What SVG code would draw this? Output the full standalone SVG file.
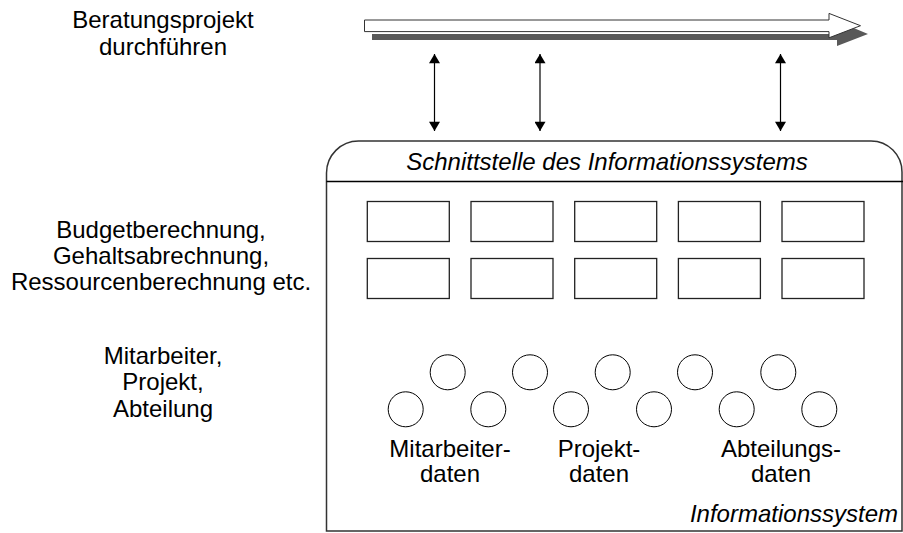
<svg xmlns="http://www.w3.org/2000/svg" width="903" height="533" viewBox="0 0 903 533">
  <defs>
    <marker id="head" viewBox="0 0 10 12" refX="10" refY="6" markerWidth="10" markerHeight="11" markerUnits="userSpaceOnUse" orient="auto-start-reverse">
      <path d="M0,0 L10,6 L0,12 Z" fill="#000"/>
    </marker>
    <style>
      text { font-family: "Liberation Sans", Arial, sans-serif; font-size: 24px; fill: #000; }
      .mid { text-anchor: middle; }
      .it { font-style: italic; }
      .fn { fill: #fff; stroke: #222; stroke-width: 1.3; }
      .db { fill: #fff; stroke: #000; stroke-width: 1; }
      .link { stroke: #000; stroke-width: 1.2; fill: none; }
    </style>
  </defs>

  <!-- process arrow with drop shadow -->
  <g id="process">
    <path d="M372,34 H837 V21 L868,34 L837,46 V40 H372 Z" fill="#595959"/>
    <path d="M364.5,20 H829 V13.4 L860.5,25.7 L829,37.8 V31.6 H364.5 Z" fill="#fff" stroke="#333" stroke-width="1"/>
  </g>
  <g id="label-process">
    <text class="mid" x="163" y="28">Beratungsprojekt</text>
    <text class="mid" x="163" y="55">durchführen</text>
  </g>

  <!-- interface links -->
  <g id="connectors">
    <line class="link" x1="434.5" y1="54" x2="434.5" y2="131" marker-start="url(#head)" marker-end="url(#head)"/>
    <line class="link" x1="540" y1="54" x2="540" y2="131" marker-start="url(#head)" marker-end="url(#head)"/>
    <line class="link" x1="780.5" y1="54" x2="780.5" y2="131" marker-start="url(#head)" marker-end="url(#head)"/>
  </g>

  <!-- information system frame -->
  <g id="system">
    <path d="M326.5,531 V173 A32,32 0 0 1 358.5,141 H871 A31,31 0 0 1 902,172 V531 Z" fill="#fff" stroke="#333" stroke-width="1.5"/>
    <line x1="326.5" y1="181.5" x2="903" y2="181.5" stroke="#000" stroke-width="1.3"/>
    <text class="mid it" x="607" y="170">Schnittstelle des Informationssystems</text>
    <text class="it" x="898" y="522" text-anchor="end">Informationssystem</text>
  </g>

  <!-- functions -->
  <g id="functions">
    <rect class="fn" x="367.3" y="201.5" width="82" height="40"/>
    <rect class="fn" x="471" y="201.5" width="82" height="40"/>
    <rect class="fn" x="574.7" y="201.5" width="82" height="40"/>
    <rect class="fn" x="678.4" y="201.5" width="82" height="40"/>
    <rect class="fn" x="782" y="201.5" width="82" height="40"/>
    <rect class="fn" x="367.3" y="258.5" width="82" height="40"/>
    <rect class="fn" x="471" y="258.5" width="82" height="40"/>
    <rect class="fn" x="574.7" y="258.5" width="82" height="40"/>
    <rect class="fn" x="678.4" y="258.5" width="82" height="40"/>
    <rect class="fn" x="782" y="258.5" width="82" height="40"/>
  </g>

  <!-- data objects -->
  <g id="data">
    <circle class="db" cx="447.7" cy="372.3" r="17.5"/>
    <circle class="db" cx="530" cy="372.3" r="17.5"/>
    <circle class="db" cx="612.7" cy="372.3" r="17.5"/>
    <circle class="db" cx="695" cy="372.3" r="17.5"/>
    <circle class="db" cx="778.3" cy="372.3" r="17.5"/>
    <circle class="db" cx="405.7" cy="409.3" r="17.5"/>
    <circle class="db" cx="488.3" cy="409.3" r="17.5"/>
    <circle class="db" cx="571" cy="409.3" r="17.5"/>
    <circle class="db" cx="654" cy="409.3" r="17.5"/>
    <circle class="db" cx="736.7" cy="409.3" r="17.5"/>
    <circle class="db" cx="819.3" cy="409.3" r="17.5"/>
  </g>

  <g id="data-labels">
    <text class="mid" x="450" y="457">Mitarbeiter-</text>
    <text class="mid" x="450" y="482">daten</text>
    <text class="mid" x="599" y="457">Projekt-</text>
    <text class="mid" x="599" y="482">daten</text>
    <text class="mid" x="781" y="457">Abteilungs-</text>
    <text class="mid" x="781" y="482">daten</text>
  </g>

  <!-- layer captions -->
  <g id="label-functions">
    <text class="mid" x="161" y="238">Budgetberechnung,</text>
    <text class="mid" x="161" y="264">Gehaltsabrechnung,</text>
    <text class="mid" x="161" y="290">Ressourcenberechnung etc.</text>
  </g>
  <g id="label-data">
    <text class="mid" x="163" y="364">Mitarbeiter,</text>
    <text class="mid" x="163" y="390">Projekt,</text>
    <text class="mid" x="163" y="417">Abteilung</text>
  </g>
</svg>
